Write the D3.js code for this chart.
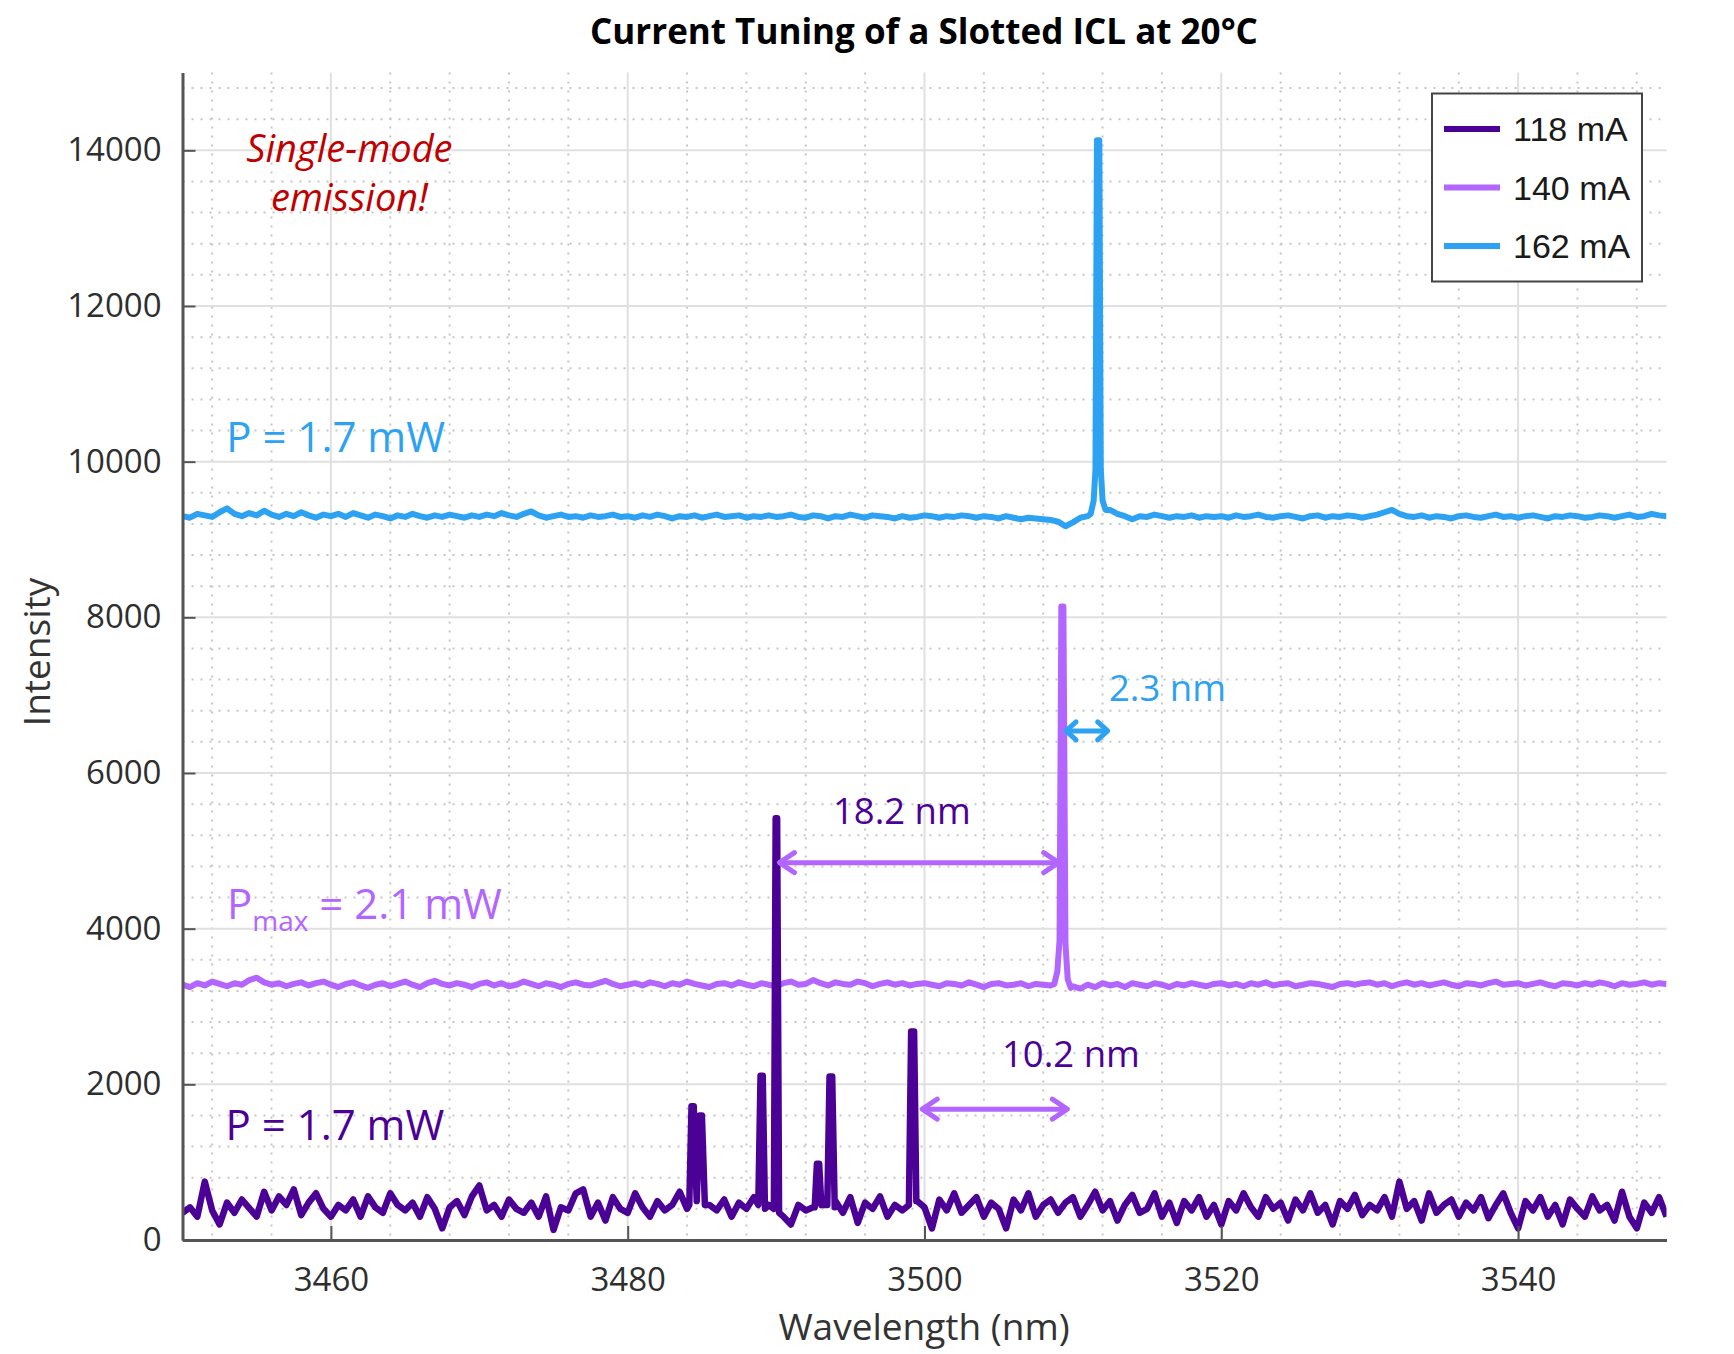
<!DOCTYPE html>
<html><head><meta charset="utf-8">
<script src="https://cdn.jsdelivr.net/npm/d3@7"></script>
<style>body{margin:0;background:#fff} svg{display:block}</style>
</head><body>
<svg id="chart" width="1734" height="1354"></svg>
<script>
// ---------- data ----------
const titleText = "Current Tuning of a Slotted ICL at 20°C";
const seriesNames = ["118 mA", "140 mA", "162 mA"];
const xDomain = [3450, 3550];
const yDomain = [0, 15000];
const xTicks = [3460, 3480, 3500, 3520, 3540];
const yTicks = [0, 2000, 4000, 6000, 8000, 10000, 12000, 14000];
const wlStart = 3450, wlStep = 0.5;

// 118 mA baseline samples (every 0.5 nm from 3450 to 3550)
const i118 = [
 350,420,300,750,380,200,480,350,520,410,300,620,380,560,450,650,320,480,600,400,
 300,450,380,520,300,560,420,350,600,450,380,480,300,550,400,150,420,500,320,560,
 700,380,450,300,520,400,350,480,300,560,130,420,380,600,650,300,480,250,550,400,
 350,600,420,300,500,380,450,620,400,450,450,450,380,520,300,480,400,550,450,450,
 400,300,200,450,380,420,450,450,500,350,550,220,480,400,560,300,450,380,450,500,
 420,150,520,380,600,350,450,550,300,480,400,150,520,380,600,300,450,520,350,480,
 550,300,450,620,380,500,250,450,580,350,400,600,300,480,220,500,380,550,300,450,
 200,500,380,600,420,300,550,400,480,250,520,380,600,350,450,200,500,400,580,320,
 450,380,550,300,750,400,500,250,600,350,450,520,300,480,380,550,280,450,600,350,
 150,500,380,550,300,450,200,520,400,300,560,380,450,250,620,300,150,480,350,550,
 300];
// 118 mA emission lines [wavelength, intensity]
const peaks118 = [
 [[3484.15,450],[3484.3,1720],[3484.45,1720],[3484.65,500],[3484.85,1600],[3485.0,1600],[3485.2,450]],
 [[3488.8,450],[3488.95,2110],[3489.1,2110],[3489.25,400]],
 [[3489.85,400],[3489.97,5420],[3490.07,5420],[3490.2,350]],
 [[3492.6,420],[3492.75,980],[3492.9,980],[3493.05,450],[3493.45,450],[3493.6,2100],[3493.78,2100],[3493.95,420]],
 [[3498.95,450],[3499.1,2680],[3499.3,2680],[3499.45,500]]
];

const i140 = [
 3280,3250,3300,3270,3320,3290,3260,3300,3280,3340,3370,3310,3280,3300,3260,3290,3310,3270,3300,3320,
 3280,3250,3290,3310,3270,3240,3280,3300,3260,3290,3320,3280,3250,3300,3330,3290,3270,3300,3280,3250,
 3290,3310,3270,3300,3260,3280,3320,3290,3260,3300,3280,3250,3290,3310,3280,3270,3300,3330,3290,3260,
 3280,3300,3270,3310,3290,3260,3300,3280,3320,3290,3270,3250,3290,3300,3270,3310,3280,3260,3300,3280,
 3260,3300,3320,3280,3290,3340,3300,3270,3310,3290,3280,3320,3300,3260,3290,3310,3280,3300,3270,3290,
 3300,3280,3260,3300,3290,3270,3310,3280,3250,3290,3300,3270,3280,3300,3260,3290,3280,3270,3300,3290,
 3260,3230,3280,3250,3300,3270,3290,3250,3300,3280,3260,3300,3280,3250,3290,3270,3300,3280,3260,3290,
 3300,3270,3290,3260,3300,3280,3310,3270,3290,3300,3260,3280,3300,3290,3270,3250,3290,3300,3280,3300,
 3310,3280,3300,3260,3290,3310,3280,3300,3270,3290,3310,3280,3260,3300,3290,3270,3300,3320,3280,3290,
 3300,3270,3290,3310,3280,3260,3300,3290,3270,3300,3280,3310,3290,3260,3300,3280,3290,3310,3280,3300,
 3290];
const peaks140 = [
 [[3508.75,3290],[3508.95,3450],[3509.1,3850],[3509.22,8140],[3509.36,8140],[3509.5,3800],[3509.65,3350],[3509.85,3240]]
];

const i162 = [
 9300,9280,9330,9310,9290,9350,9400,9330,9300,9340,9310,9370,9320,9290,9330,9300,9350,9310,9280,9320,
 9300,9330,9290,9340,9310,9280,9320,9300,9270,9310,9290,9330,9300,9280,9310,9290,9320,9300,9280,9310,
 9290,9320,9300,9340,9310,9290,9330,9360,9310,9280,9300,9320,9290,9300,9280,9310,9290,9300,9320,9290,
 9300,9280,9310,9290,9320,9300,9270,9300,9290,9310,9280,9300,9320,9290,9300,9310,9280,9300,9290,9310,
 9290,9300,9320,9290,9280,9310,9300,9270,9300,9290,9320,9300,9280,9310,9300,9290,9270,9300,9280,9290,
 9310,9300,9280,9300,9290,9310,9300,9280,9300,9290,9270,9300,9280,9260,9280,9270,9260,9250,9230,9170,
 9220,9280,9300,9350,9370,9380,9330,9300,9260,9300,9290,9320,9300,9280,9300,9290,9310,9280,9300,9290,
 9300,9280,9310,9290,9300,9320,9290,9280,9300,9310,9290,9270,9300,9310,9280,9300,9290,9310,9300,9280,
 9300,9320,9350,9380,9330,9300,9290,9310,9280,9300,9290,9270,9300,9310,9290,9280,9300,9320,9290,9300,
 9280,9300,9310,9290,9270,9300,9290,9310,9300,9280,9290,9310,9300,9280,9300,9320,9290,9300,9330,9310,
 9300];
const peaks162 = [
 [[3511.2,9330],[3511.4,9500],[3511.52,9900],[3511.62,14130],[3511.78,14130],[3511.88,9900],[3512.0,9500],[3512.2,9380]]
];

// annotations (anchored in data units)
const powerLabels = [
  {text: "P = 1.7 mW", wl: 3452.95, at: 10128, series: 2},
  {text: "P|max| = 2.1 mW", wl: 3453.0, at: 4121, series: 1},
  {text: "P = 1.7 mW", wl: 3452.9, at: 1285, series: 0}
];
const spacingArrows = [
  {label: "18.2 nm", from: 3490.16, to: 3509.11, at: 4848, labelWl: 3493.83, labelAt: 5345, arrowSeries: 1, textSeries: 0},
  {label: "10.2 nm", from: 3499.78, to: 3509.69, at: 1681, labelWl: 3505.22, labelAt: 2223, arrowSeries: 1, textSeries: 0},
  {label: "2.3 nm",  from: 3509.47, to: 3512.41, at: 6540, labelWl: 3512.43, labelAt: 6925, arrowSeries: 2, textSeries: 2}
];
const noteLines = ["Single-mode", "emission!"];
const noteAnchor = {wl: 3461.25, at: [13854, 13225]};

// ---------- styles ----------
const colors = ["#4b0096", "#b266ff", "#2ea2f2"];
const font = "'Open Sans', 'Noto Sans', sans-serif";

// ---------- chart ----------
const svg = d3.select("#chart");
svg.append("rect").attr("width", 1734).attr("height", 1354).attr("fill", "#fff");
const plot = {left: 182.5, right: 1666.5, top: 72.5, bottom: 1240};
const x = d3.scaleLinear().domain(xDomain).range([plot.left, plot.right]);
const y = d3.scaleLinear().domain(yDomain).range([plot.bottom, plot.top]);

// grids
const xMinor = d3.range(3452, xDomain[1], 4).filter(v => !xTicks.includes(v));
const yMinor = d3.range(400, yDomain[1], 400).filter(v => v % 2000 !== 0);
const grid = svg.append("g");
grid.selectAll(".vm").data(xMinor).join("line")
  .attr("x1", d => x(d)).attr("x2", d => x(d)).attr("y1", plot.top).attr("y2", plot.bottom)
  .attr("stroke", "#c6c6c6").attr("stroke-width", 2).attr("stroke-dasharray", "2,7");
grid.selectAll(".hm").data(yMinor).join("line")
  .attr("y1", d => y(d)).attr("y2", d => y(d)).attr("x1", plot.left).attr("x2", plot.right)
  .attr("stroke", "#c6c6c6").attr("stroke-width", 2).attr("stroke-dasharray", "2,7");
grid.selectAll(".vM").data(xTicks).join("line")
  .attr("x1", d => x(d)).attr("x2", d => x(d)).attr("y1", plot.top).attr("y2", plot.bottom)
  .attr("stroke", "#e0e0e0").attr("stroke-width", 2);
grid.selectAll(".hM").data(yTicks).join("line")
  .attr("y1", d => y(d)).attr("y2", d => y(d)).attr("x1", plot.left).attr("x2", plot.right)
  .attr("stroke", "#e0e0e0").attr("stroke-width", 2);

// series
function buildSeries(values, clusters) {
  let pts = values.map((v, i) => [wlStart + i * wlStep, v]);
  clusters.forEach(c => {
    const lo = c[0][0], hi = c[c.length - 1][0];
    pts = pts.filter(p => p[0] < lo || p[0] > hi).concat(c);
  });
  return pts.sort((a, b) => a[0] - b[0]);
}
const series = [buildSeries(i118, peaks118), buildSeries(i140, peaks140), buildSeries(i162, peaks162)];

svg.append("clipPath").attr("id", "clip").append("rect")
  .attr("x", plot.left).attr("y", plot.top).attr("width", plot.right - plot.left).attr("height", plot.bottom - plot.top);
const line = d3.line().x(d => x(d[0])).y(d => y(d[1]));
const lines = svg.append("g").attr("clip-path", "url(#clip)");
[2, 1, 0].forEach(k => {
  lines.append("path").datum(series[k]).attr("d", line)
    .attr("fill", "none").attr("stroke", colors[k]).attr("stroke-width", k === 0 ? 6.5 : 6)
    .attr("stroke-linejoin", "round");
});

// axes
const yAxis = svg.append("g").attr("transform", `translate(${plot.left},0)`)
  .call(d3.axisLeft(y).tickValues(yTicks).tickSize(-13).tickSizeOuter(0).tickPadding(21).tickFormat(d3.format("d")));
const xAxis = svg.append("g").attr("transform", `translate(0,${plot.bottom})`)
  .call(d3.axisBottom(x).tickValues(xTicks).tickSize(-14).tickSizeOuter(0).tickPadding(28).tickFormat(d3.format("d")));
[xAxis, yAxis].forEach(a => {
  a.select(".domain").attr("stroke", "#555").attr("stroke-width", 3);
  a.selectAll(".tick line").attr("stroke", "#555").attr("stroke-width", 2);
  a.selectAll(".tick text").attr("font-family", font).attr("font-size", 33).attr("fill", "#2e2e2e");
});

// axis titles
svg.append("text").attr("x", 924).attr("y", 1340).attr("text-anchor", "middle")
  .attr("font-family", font).attr("font-size", 37).attr("fill", "#333").text("Wavelength (nm)");
svg.append("text").attr("transform", "translate(50,652) rotate(-90)").attr("text-anchor", "middle")
  .attr("font-family", font).attr("font-size", 37).attr("fill", "#333").text("Intensity");
svg.append("text").attr("x", 924).attr("y", 44).attr("text-anchor", "middle")
  .attr("font-family", font).attr("font-weight", "bold").attr("font-size", 35).attr("fill", "#000").text(titleText);

// power labels
powerLabels.forEach(p => {
  const t = svg.append("text").attr("x", x(p.wl)).attr("y", y(p.at))
    .attr("font-family", font).attr("font-size", 42).attr("fill", colors[p.series]);
  const parts = p.text.split("|");
  if (parts.length === 3) {
    t.append("tspan").text(parts[0]);
    t.append("tspan").attr("dy", 12).attr("font-size", 28).text(parts[1]);
    t.append("tspan").attr("dy", -12).text(parts[2]);
  } else t.text(p.text);
});

// spacing arrows
const ann = svg.append("g");
spacingArrows.forEach(a => {
  const x1 = x(a.from), x2 = x(a.to), yy = y(a.at), c = colors[a.arrowSeries];
  const head = a.arrowSeries === 2 ? 11 : 16, half = a.arrowSeries === 2 ? 9 : 10;
  const g = ann.append("g").attr("stroke", c).attr("stroke-width", 5).attr("fill", "none")
    .attr("stroke-linecap", "round").attr("stroke-linejoin", "round");
  g.append("line").attr("x1", x1 + 2).attr("x2", x2 - 2).attr("y1", yy).attr("y2", yy);
  g.append("polyline").attr("points", `${x1 + head},${yy - half} ${x1 + 1},${yy} ${x1 + head},${yy + half}`);
  g.append("polyline").attr("points", `${x2 - head},${yy - half} ${x2 - 1},${yy} ${x2 - head},${yy + half}`);
  ann.append("text").attr("x", x(a.labelWl)).attr("y", y(a.labelAt))
    .attr("font-family", font).attr("font-size", 36.5).attr("fill", colors[a.textSeries]).text(a.label);
});

// single-mode note
noteLines.forEach((s, i) => {
  svg.append("text").attr("x", x(noteAnchor.wl)).attr("y", y(noteAnchor.at[i])).attr("text-anchor", "middle")
    .attr("font-family", font).attr("font-style", "italic").attr("font-size", 38).attr("fill", "#c00000").text(s);
});

// legend
const lg = svg.append("g");
lg.append("rect").attr("x", 1432).attr("y", 93.5).attr("width", 210).attr("height", 188)
  .attr("fill", "#fff").attr("stroke", "#444").attr("stroke-width", 2);
seriesNames.forEach((n, i) => {
  const yy = 129 + i * 58.5;
  lg.append("line").attr("x1", 1444).attr("x2", 1500).attr("y1", yy).attr("y2", yy)
    .attr("stroke", colors[i]).attr("stroke-width", 6);
  lg.append("text").attr("x", 1513).attr("y", yy).attr("dy", "0.36em")
    .attr("font-family", "'Liberation Sans', Arial, sans-serif").attr("font-size", 34).attr("fill", "#1a1a1a").text(n);
});
</script>
</body></html>
